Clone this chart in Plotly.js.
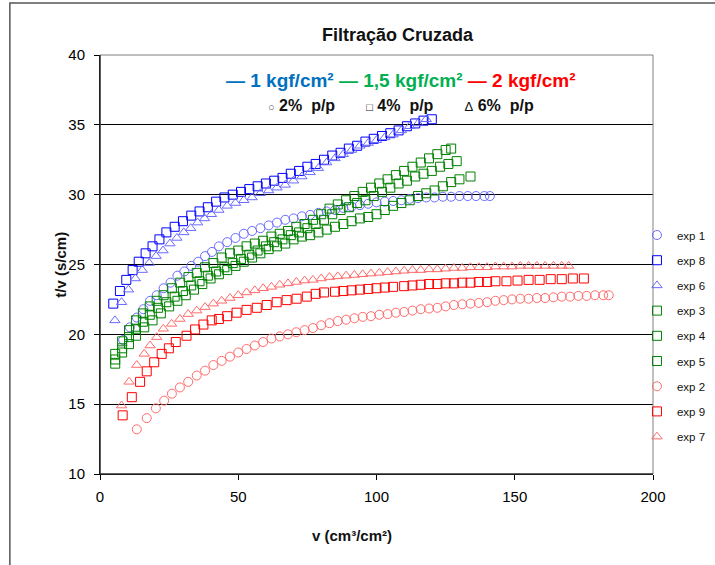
<!DOCTYPE html>
<html>
<head>
<meta charset="utf-8">
<script src="https://cdn.plot.ly/plotly-3.0.1.min.js"></script>
<style>html,body{margin:0;padding:0;background:#fff;}#chart{width:715px;height:565px;}</style>
</head>
<body>
<div id="chart"></div>
<script>
// exp 1 : 1 kgf/cm2, 2% p/p (blue circles)
const exp1_v = [8.4,10.8,13.3,15.7,18.1,20.5,23,25.5,28,30.5,33,35.5,38,40.5,43,46,49,52,55,58,61,64,67,70,73,76,79,82,85,88,91,94,97,100,103,106,109,112,115,118,121,124,127,130,133,136,139,141];
const exp1_y = [19.6,20.5,21.2,21.8,22.4,22.8,23.3,23.7,24.2,24.5,24.9,25.2,25.6,25.9,26.3,26.6,26.9,27.2,27.4,27.6,27.8,28.0,28.2,28.3,28.45,28.55,28.7,28.8,28.9,29.05,29.15,29.25,29.35,29.45,29.5,29.55,29.6,29.7,29.75,29.8,29.8,29.85,29.85,29.9,29.9,29.9,29.9,29.9];
// exp 8 : 1 kgf/cm2, 4% p/p (blue squares)
const exp8_v = [4.8,7.2,9.5,11.8,14,16.5,19,21.5,24,27,30,33,36,39,42,45,48,51,54,57,60,63,66,69,72,75,78,81,84,87,90,93,96,99,102,105,108,111,114,117,120];
const exp8_y = [22.2,23.1,23.9,24.6,25.2,25.8,26.3,26.8,27.3,27.7,28.1,28.5,28.8,29.1,29.5,29.8,30.0,30.2,30.4,30.6,30.8,31.0,31.2,31.5,31.7,32.0,32.2,32.5,32.8,33.0,33.3,33.5,33.8,34.0,34.2,34.4,34.6,34.9,35.1,35.3,35.4];
// exp 6 : 1 kgf/cm2, 6% p/p (blue triangles)
const exp6_v = [5.4,7.8,10.3,12.8,15.3,17.8,20.3,22.8,25.3,27.8,30.3,32.8,35.3,37.8,40.3,43,46,49,52,55,58,61,64,67,70,73,76,79,82,85,88,91,94,97,100,103,106,109,112,115,118];
const exp6_y = [21.0,22.3,23.2,24.0,24.6,25.1,25.6,26.0,26.5,26.9,27.3,27.6,28.0,28.3,28.6,28.9,29.2,29.4,29.6,29.8,30.1,30.3,30.5,30.7,31.0,31.3,31.6,31.9,32.3,32.6,32.9,33.2,33.5,33.7,33.9,34.1,34.3,34.6,34.9,35.1,35.4];
// exp 3, 4, 5 : 1,5 kgf/cm2 (green squares)
const exp3_v = [5.5,8,10.5,13,15.5,18,20.5,23,26,29,32,35,38,41,44,47,50,53,56,59,62,65,68,71,74,77,80,83,86,89,92,95,98,101,104,107,110,113,116,119,122,125,127];
const exp3_y = [18.6,19.5,20.3,21.0,21.5,22.0,22.4,22.8,23.3,23.7,24.1,24.4,24.8,25.1,25.5,25.8,26.0,26.3,26.5,26.7,27.0,27.2,27.4,27.7,27.9,28.2,28.6,29.0,29.3,29.6,29.9,30.2,30.5,30.8,31.1,31.4,31.7,32.0,32.3,32.6,32.9,33.2,33.3];
const exp4_v = [5.5,8,10.5,13,15.5,18,21,24,27,30,33,36,39,42,45,48,51,54,57,60,63,66,69,72,75,78,81,84,87,90,93,96,99,102,105,108,111,114,117,120,123,126,129];
const exp4_y = [18.2,19.0,19.8,20.4,20.9,21.4,21.9,22.3,22.7,23.1,23.5,23.8,24.2,24.5,24.8,25.1,25.4,25.7,26.0,26.3,26.6,26.8,27.1,27.3,27.6,27.9,28.2,28.6,28.9,29.1,29.4,29.6,29.9,30.2,30.5,30.8,31.0,31.3,31.5,31.7,32.0,32.2,32.4];
const exp5_v = [5.5,8,10.5,13,16,19,22,25,28,31,34,37,40,43,46,49,52,55,58,61,64,67,70,73,76,79,82,85,88,91,94,97,100,103,106,109,112,115,118,121,124,127,130,134];
const exp5_y = [17.9,18.7,19.3,19.9,20.5,21.0,21.5,22.0,22.4,22.8,23.2,23.6,24.0,24.3,24.6,24.9,25.2,25.5,25.8,26.1,26.3,26.5,26.8,27.0,27.1,27.3,27.5,27.7,27.9,28.1,28.3,28.4,28.6,28.9,29.2,29.4,29.6,29.9,30.1,30.3,30.6,30.9,31.1,31.3];
// exp 2 : 2 kgf/cm2, 2% p/p (red circles)
const exp2_v = [13.3,16.9,20.2,23.2,26,28.9,31.9,35,38,41,44,47,50,53,56,59,62,65,68,71,74,77,80,83,86,89,92,95,98,101,104,107,110,113,116,119,122,125,128,131,134,137,140,143,146,149,152,155,158,161,164,167,170,173,176,179,182,184];
const exp2_y = [13.2,14.0,14.7,15.25,15.75,16.2,16.6,17.05,17.4,17.8,18.1,18.4,18.7,18.95,19.2,19.45,19.7,19.85,20.0,20.15,20.3,20.45,20.65,20.8,20.95,21.05,21.15,21.25,21.3,21.4,21.45,21.55,21.6,21.7,21.8,21.85,21.9,22.0,22.1,22.15,22.2,22.25,22.3,22.4,22.45,22.5,22.55,22.55,22.6,22.6,22.65,22.7,22.7,22.75,22.75,22.8,22.8,22.8];
// exp 9 : 2 kgf/cm2, 4% p/p (red squares)
const exp9_v = [8.2,11.5,14.5,16.9,19.6,22.3,24.9,27.4,31.3,34.4,37.4,40.4,43,46,49.4,53,56.7,60.3,63.9,67.5,71.1,74.8,78,81,85,88,91,94,97,100,103,106,110,113,116,119,122,125,128,131,134,137,140,143,147,151,155,159,163,167,171,175];
const exp9_y = [14.2,15.5,16.6,17.35,18.0,18.6,19.0,19.45,19.9,20.35,20.7,21.0,21.1,21.3,21.55,21.75,21.9,22.1,22.3,22.45,22.55,22.7,22.9,23.0,23.05,23.1,23.15,23.2,23.25,23.3,23.35,23.4,23.45,23.5,23.55,23.6,23.6,23.65,23.65,23.7,23.7,23.75,23.75,23.8,23.8,23.85,23.9,23.9,23.95,23.95,24.0,24.0];
// exp 7 : 2 kgf/cm2, 6% p/p (red triangles)
const exp7_v = [7.8,10.5,13.3,16,18.1,20.5,22.9,25.9,28.9,31.9,35,38,41,44,47,50,53,56,59,62,65,68,71,74,77,80,83,86,89,92,95,98,101,104,107,110,113,116,119,122,125,128,131,134,137,140,143,146,149,152,155,158,161,164,167,169.5];
const exp7_y = [14.9,16.6,17.8,18.6,19.2,19.8,20.4,20.75,21.1,21.45,21.7,21.95,22.2,22.4,22.6,22.8,23.0,23.15,23.3,23.4,23.55,23.65,23.75,23.85,23.9,24.0,24.1,24.15,24.2,24.25,24.3,24.35,24.4,24.45,24.5,24.55,24.6,24.6,24.65,24.65,24.7,24.75,24.75,24.8,24.8,24.8,24.85,24.85,24.85,24.9,24.9,24.9,24.9,24.9,24.9,24.9];

const seriesNames = ['exp 1','exp 8','exp 6','exp 3','exp 4','exp 5','exp 2','exp 9','exp 7'];
const xTicks = [0,50,100,150,200];
const yTicks = [10,15,20,25,30,35,40];

const series = [
  {v:exp1_v, y:exp1_y, sym:'circle-open', col:'#6b6bff'},
  {v:exp8_v, y:exp8_y, sym:'square-open', col:'#0000ff'},
  {v:exp6_v, y:exp6_y, sym:'triangle-up-open', col:'#6b6bff'},
  {v:exp3_v, y:exp3_y, sym:'square-open', col:'#008000'},
  {v:exp4_v, y:exp4_y, sym:'square-open', col:'#008000'},
  {v:exp5_v, y:exp5_y, sym:'square-open', col:'#008000'},
  {v:exp2_v, y:exp2_y, sym:'circle-open', col:'#ff6b6b'},
  {v:exp9_v, y:exp9_y, sym:'square-open', col:'#ff0000'},
  {v:exp7_v, y:exp7_y, sym:'triangle-up-open', col:'#ff6b6b'}
];

const traces = series.map((s,i) => ({
  type:'scatter', mode:'markers', name:seriesNames[i], x:s.v, y:s.y,
  legendgroup:'g'+i,
  marker:{symbol:s.sym, size:9, color:s.col, line:{width:1, color:s.col}}
}));

const font = 'Arial, "Liberation Sans", sans-serif';
const layout = {
  width:715, height:565,
  margin:{l:100, r:62, t:55, b:91, autoexpand:false},
  paper_bgcolor:'#ffffff', plot_bgcolor:'#ffffff',
  font:{family:font, size:14, color:'#000'},
  showlegend:true,
  legend:{x:0.971, xanchor:'left', y:0.605, yanchor:'top', bgcolor:'rgba(0,0,0,0)',
          font:{family:font, size:11.5, color:'#111'}, traceorder:'grouped', tracegroupgap:6.2, itemwidth:30},
  xaxis:{range:[0,200], tickvals:xTicks, ticktext:xTicks.map(String), ticks:'outside', ticklen:5, tickcolor:'#000',
         ticklabelstandoff:4,
         showline:true, linecolor:'#000', linewidth:1, showgrid:false, zeroline:false,
         tickfont:{size:15, family:font}},
  yaxis:{range:[10,40], tickvals:yTicks, ticktext:yTicks.map(String), ticks:'outside', ticklen:5, tickcolor:'#000',
         ticklabelstandoff:6,
         showline:true, linecolor:'#000', linewidth:1, showgrid:true, gridcolor:'#000', gridwidth:1, zeroline:false,
         tickfont:{size:15, family:font}},
  title:{text:'<b>Filtração Cruzada</b>', font:{size:18, family:font, color:'#111'}, xref:'container', yref:'container', x:0.556, xanchor:'center', y:0.938, yanchor:'middle'},
  annotations:[
    {xref:'paper', yref:'paper', x:0.544, y:0.94, yanchor:'middle', showarrow:false,
     text:'<b><span style="color:#0070c0">— 1 kgf/cm²</span> <span style="color:#00b050">— 1,5 kgf/cm²</span> <span style="color:#ff0000">— 2 kgf/cm²</span></b>',
     font:{size:19, family:font}},
    {xref:'paper', yref:'paper', x:0.544, y:0.88, yanchor:'middle', showarrow:false,
     text:'<span style="font-size:11px;color:#555">○</span> <b>2%  p/p</b>       <span style="font-size:11px">□</span> <b>4%  p/p</b>       <span style="font-size:13px">Δ</span> <b>6%  p/p</b>',
     font:{size:16, family:font, color:'#111'}},
    {xref:'paper', yref:'paper', x:0.456, y:-0.1456, yanchor:'middle', xanchor:'center', showarrow:false,
     text:'<b>v (cm³/cm²)</b>', font:{size:15, family:font, color:'#111'}},
    {xref:'paper', yref:'paper', x:-0.072, y:0.5, yanchor:'middle', xanchor:'center', showarrow:false, textangle:-90,
     text:'<b>t/v (s/cm)</b>', font:{size:15, family:font, color:'#111'}}
  ],
  shapes:[
    {type:'rect', xref:'paper', yref:'paper', x0:0, x1:1, y0:0, y1:1, line:{color:'#808080', width:1}, layer:'above'},
    {type:'line', xref:'paper', yref:'paper', x0:0, x1:0, y0:0, y1:1, line:{color:'#000', width:1}, layer:'above'},
    {type:'line', xref:'paper', yref:'paper', x0:0, x1:1, y0:0, y1:0, line:{color:'#000', width:1}, layer:'above'},
    {type:'rect', xref:'paper', yref:'paper', x0:-0.163, x1:1.13, y0:-0.25, y1:1.124, line:{color:'#555', width:1.5}, layer:'below'}
  ]
};

Plotly.newPlot('chart', traces, layout, {displayModeBar:false, staticPlot:true});
</script>
</body>
</html>
